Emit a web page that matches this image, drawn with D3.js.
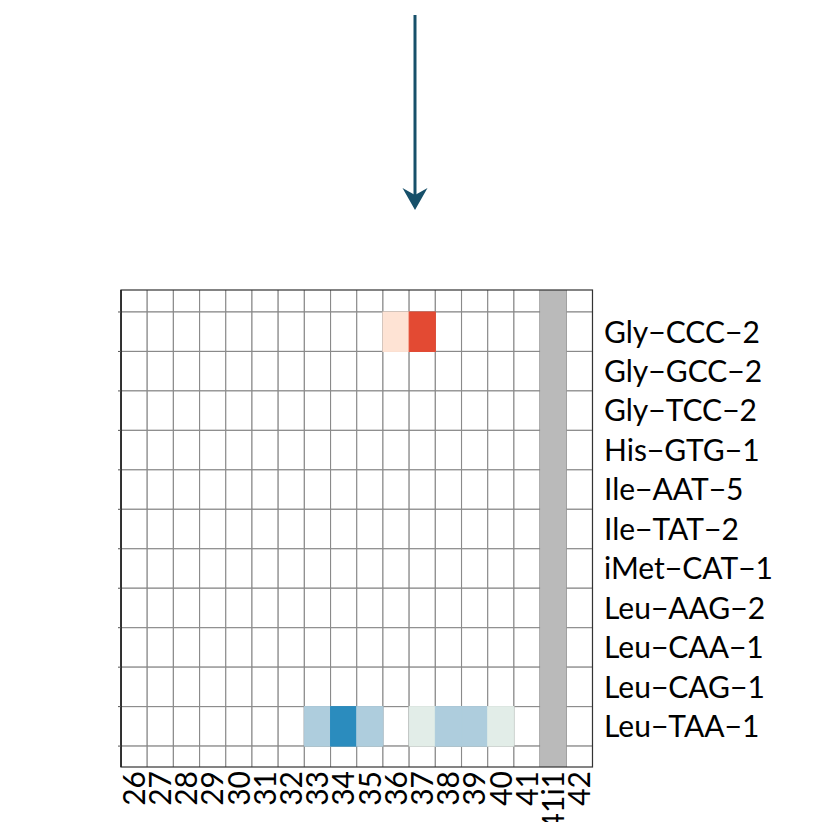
<!DOCTYPE html>
<html><head><meta charset="utf-8">
<script src="https://cdn.jsdelivr.net/npm/d3@7"></script>
<style>body{margin:0;background:#fff}svg{display:block}text{font-family:Lato,"Noto Sans",sans-serif;fill:#000}</style>
</head><body><svg id="c" width="823" height="822"></svg>
<script>
const positions = ["26","27","28","29","30","31","32","33","34","35","36","37","38","39","40","41","41i1","42"];
const trnas = ["Gly−CCC−2","Gly−GCC−2","Gly−TCC−2","His−GTG−1","Ile−AAT−5","Ile−TAT−2","iMet−CAT−1","Leu−AAG−2","Leu−CAA−1","Leu−CAG−1","Leu−TAA−1"];
const missingPositions = ["41i1"];
// non-zero cell values: [tRNA, position, value]
const cellTRNA  = ["Gly−CCC−2","Gly−CCC−2","Leu−TAA−1","Leu−TAA−1","Leu−TAA−1","Leu−TAA−1","Leu−TAA−1","Leu−TAA−1","Leu−TAA−1"];
const cellPos   = ["36","37","33","34","35","37","38","39","40"];
const cellValue = [0.2, 1.0, -0.4, -1.0, -0.4, -0.1, -0.4, -0.4, -0.1];

const svg = d3.select("#c");
const panel = {left:121, right:592.5, top:290, bottom:767};
const x = d3.scaleBand().domain(positions).range([panel.left, panel.right]).padding(0);
const y = d3.scaleLinear().domain([-0.557, 11.53]).range([panel.top, panel.bottom]);
const color = d3.scaleLinear()
  .domain([-1, -0.4, -0.1, 0, 0.2, 1])
  .range(["#2b8cbe", "#aecddd", "#e2ede8", "#ffffff", "#fee3d4", "#e34a33"]);

svg.append("clipPath").attr("id","clip").append("rect")
  .attr("x",panel.left).attr("y",panel.top).attr("width",panel.right-panel.left).attr("height",panel.bottom-panel.top);
const g = svg.append("g").attr("clip-path","url(#clip)");

// base grid of tiles (including partial neighbouring rows)
const rowIdx = d3.range(-1, trnas.length + 1);
rowIdx.forEach(r => {
  positions.forEach(p => {
    g.append("rect").attr("x", x(p)).attr("y", y(r)).attr("width", x.bandwidth()).attr("height", y(r+1)-y(r))
      .attr("fill","#fff").attr("stroke","#8a8a8a").attr("stroke-width",1.1);
  });
});
// coloured tiles
cellValue.forEach((v,i) => {
  const r = trnas.indexOf(cellTRNA[i]);
  g.append("rect").attr("x", x(cellPos[i])).attr("y", y(r)).attr("width", x.bandwidth()).attr("height", y(r+1)-y(r))
    .attr("fill", color(v)).attr("stroke", color(v)).attr("stroke-width",1);
});
// missing column
missingPositions.forEach(p => {
  g.append("rect").attr("x", x(p)).attr("y", panel.top).attr("width", x.bandwidth()).attr("height", panel.bottom-panel.top)
    .attr("fill","#bababa");
});
// border
svg.append("rect").attr("x",panel.left).attr("y",panel.top).attr("width",panel.right-panel.left).attr("height",panel.bottom-panel.top)
  .attr("fill","none").attr("stroke","#333").attr("stroke-width",1.2);
svg.append("line").attr("x1",panel.left).attr("x2",panel.left).attr("y1",panel.top).attr("y2",panel.bottom)
  .attr("stroke","#222").attr("stroke-width",1.6);
// left ticks at row boundaries
d3.range(0, trnas.length + 1).forEach(r => {
  svg.append("line").attr("x1",panel.left-3).attr("x2",panel.left).attr("y1",y(r)).attr("y2",y(r)).attr("stroke","#555").attr("stroke-width",1);
});

// row labels
trnas.forEach((t,i) => {
  svg.append("text").attr("x", 604).attr("y", (y(i)+y(i+1))/2).attr("dy","0.36em")
    .attr("font-size",30).text(t);
});
// column labels
positions.forEach(p => {
  svg.append("text").attr("transform",`translate(${x(p)+x.bandwidth()/2},771) rotate(-90)`)
    .attr("text-anchor","end").attr("dy","0.36em").attr("font-size",30).text(p);
});

// arrow annotation
const arrowX = 415;
svg.append("line").attr("x1",arrowX).attr("x2",arrowX).attr("y1",15).attr("y2",196)
  .attr("stroke","#17506a").attr("stroke-width",3);
svg.append("path").attr("d",`M${arrowX},210 L${arrowX-12.5},188 L${arrowX},195 L${arrowX+12.5},188 Z`).attr("fill","#17506a");
</script></body></html>
